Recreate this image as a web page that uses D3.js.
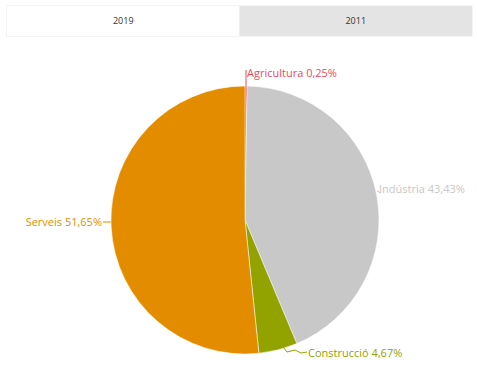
<!DOCTYPE html>
<html><head><meta charset="utf-8">
<script src="https://cdn.jsdelivr.net/npm/d3@7"></script>
<style>body{margin:0;background:#fff;}svg{display:block;}</style>
</head><body>
<script>
const tabs = ["2019", "2011"];
const categories = ["Agricultura", "Indústria", "Construcció", "Serveis"];
const values = [0.25, 43.43, 4.67, 51.65];
const colors = ["#ec4a5e", "#c8c8c8", "#92a300", "#e38c00"];

const W = 477, H = 365;
const svg = d3.select("body").append("svg").attr("width", W).attr("height", H);
const font = "'Open Sans', sans-serif";

// tabs
const tabX = d3.scaleBand().domain(tabs).range([7, 472]).padding(0);
svg.append("rect").attr("x", 6).attr("y", 5).attr("width", 467).attr("height", 32)
  .attr("fill", "#f4f4f4");
tabs.forEach((t, i) => {
  svg.append("rect").attr("x", tabX(t)).attr("y", 6).attr("width", tabX.bandwidth()).attr("height", 30)
    .attr("fill", i === 0 ? "#ffffff" : "#e4e4e4");
  svg.append("text").attr("x", tabX(t) + tabX.bandwidth() / 2).attr("y", 24)
    .attr("text-anchor", "middle").attr("font-family", font).attr("font-size", 9)
    .attr("fill", "#333").text(t);
});

// pie
const cx = 245, cy = 220, r = 134;
const g = svg.append("g").attr("transform", `translate(${cx},${cy})`);
const pie = d3.pie().sort(null).value(d => d.v);
const data = pie(categories.map((c, i) => ({c, v: values[i], col: colors[i]})));
const arc = d3.arc().innerRadius(0).outerRadius(r);
g.selectAll("path").data(data).join("path")
  .attr("d", arc).attr("fill", d => d.data.col).attr("stroke", "#fff").attr("stroke-width", 0.5);

// labels
const fmt = v => d3.format(".2f")(v).replace(".", ",") + "%";
const labelPos = [
  {x: 247, y: 77, anchor: "start", line: [[1, -r], [1, -r - 16]]},
  {x: 379, y: 193, anchor: "start", line: [[132, -29], [136, -27]]},
  {x: 308, y: 357, anchor: "start", line: [[38, 127], [42, 132], [50, 130], [56, 133], [62, 132]]},
  {x: 102, y: 226, anchor: "end", line: [[-r, 2], [-r - 8, 2]]}
];
data.forEach((d, i) => {
  const L = labelPos[i];
  g.append("path").attr("d", d3.line()(L.line)).attr("fill", "none")
    .attr("stroke", d.data.col).attr("stroke-width", 1);
  svg.append("text").attr("x", L.x).attr("y", L.y).attr("text-anchor", L.anchor)
    .attr("font-family", font).attr("font-size", 11).attr("fill", d.data.col)
    .text(`${d.data.c} ${fmt(d.data.v)}`);
});
</script>
</body></html>
